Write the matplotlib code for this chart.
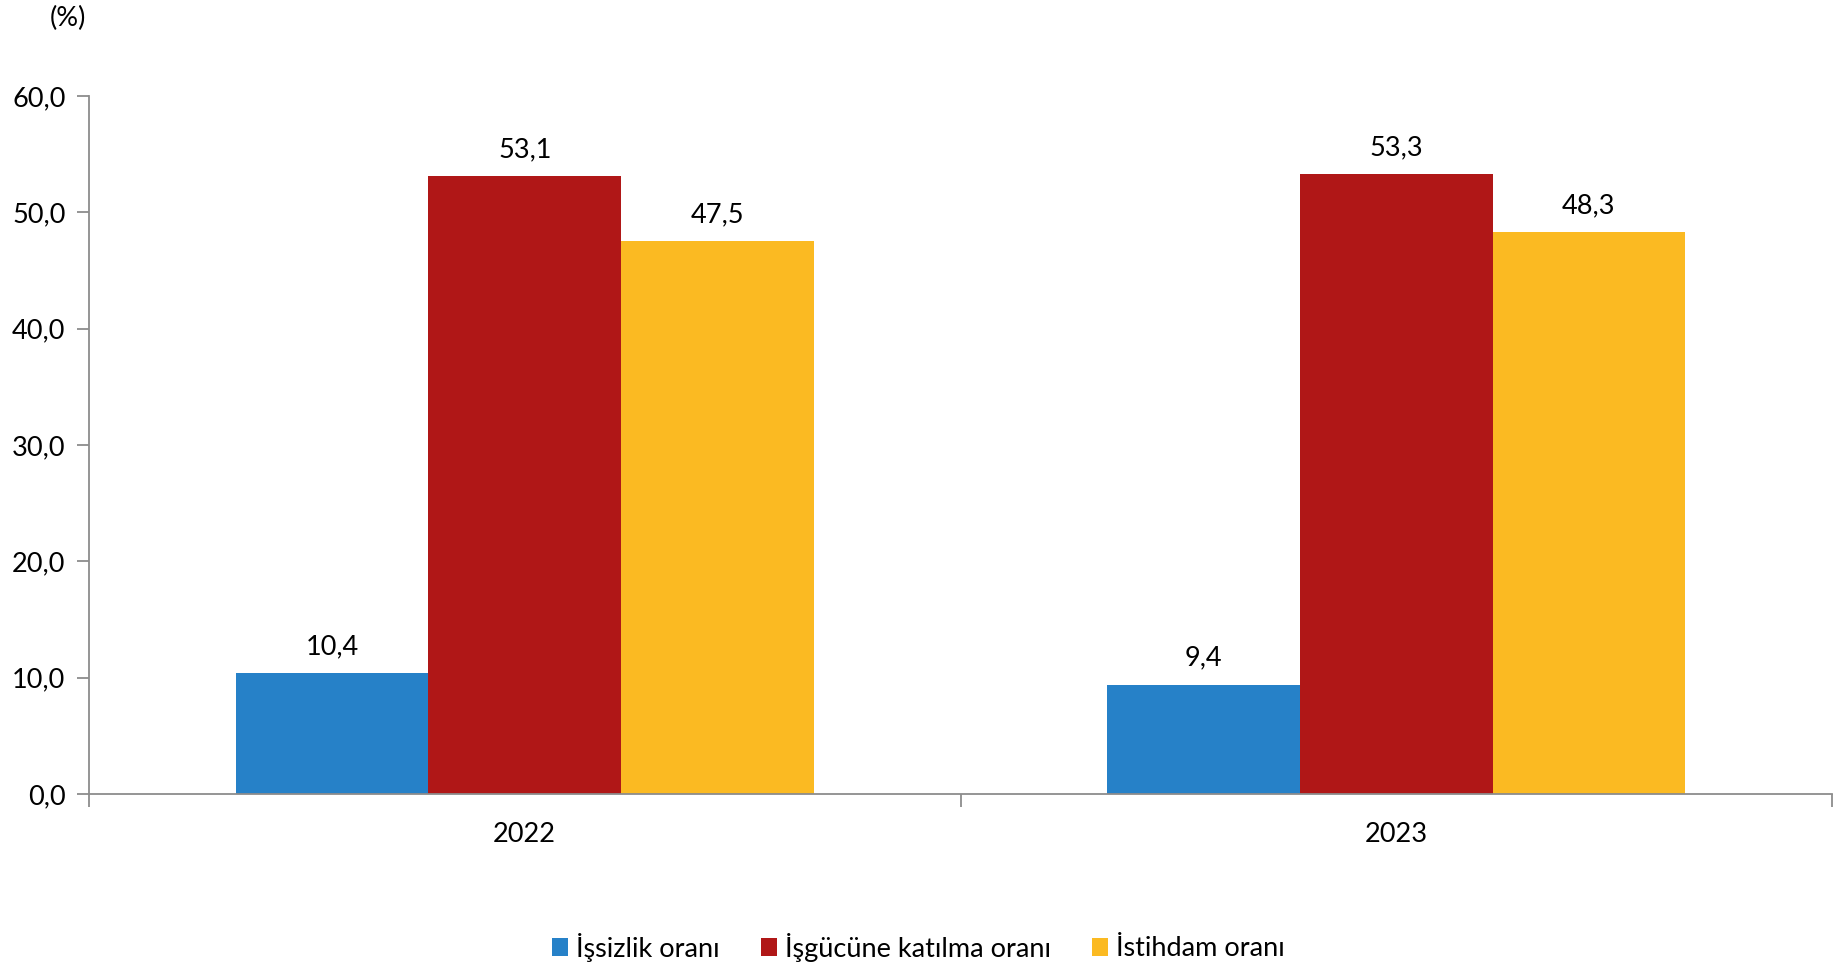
import matplotlib
matplotlib.use("Agg")
import matplotlib.pyplot as plt
import numpy as np

years = ["2022", "2023"]
issizlik = [10.4, 9.4]
isgucu = [53.1, 53.3]
istihdam = [47.5, 48.3]
series_names = ["İşsizlik oranı", "İşgücüne katılma oranı", "İstihdam oranı"]
colors = ["#2681C8", "#B01717", "#FBBA22"]

plt.rcParams["font.family"] = ["Lato", "DejaVu Sans"]
FS = 19.5

fig = plt.figure(figsize=(18.37, 9.67), dpi=100)
ax = fig.add_axes([89 / 1837, 1 - 794 / 967, (1832 - 89) / 1837, (794 - 96) / 967])

x = np.arange(len(years))
width = 0.221
for i, (vals, name, color) in enumerate(zip([issizlik, isgucu, istihdam], series_names, colors)):
    bars = ax.bar(x + (i - 1) * width, vals, width, color=color, label=name)
    ax.bar_label(bars, labels=[f"{v:.1f}".replace(".", ",") for v in vals],
                 padding=10, fontsize=FS)

ax.set_xlim(-0.5, 1.5)
ax.set_ylim(0, 60)
ax.set_yticks(np.arange(0, 61, 10))
ax.set_yticklabels([f"{v:.1f}".replace(".", ",") for v in np.arange(0, 61, 10)], fontsize=FS)
ax.set_xticks(x)
ax.set_xticklabels(years, fontsize=FS)
ax.tick_params(axis="x", length=0, pad=20)
ax.set_xticks([-0.5, 0.5, 1.5], minor=True)
ax.tick_params(axis="x", which="minor", length=9, color="#8c8c8c", width=1.3)
ax.tick_params(axis="y", length=9, color="#8c8c8c", width=1.3, pad=8)

for side in ["top", "right"]:
    ax.spines[side].set_visible(False)
for side in ["left", "bottom"]:
    ax.spines[side].set_color("#8c8c8c")
    ax.spines[side].set_linewidth(1.3)

fig.text(68 / 1837, 1 - 18 / 967, "(%)", fontsize=FS, ha="center", va="center")

fig.legend(loc="center", bbox_to_anchor=(0.5, 1 - 947 / 967), ncol=3, frameon=False,
           fontsize=FS, handlelength=0.6, handleheight=0.6, handletextpad=0.3, columnspacing=1.5)

fig.savefig("out.png", dpi=100)
